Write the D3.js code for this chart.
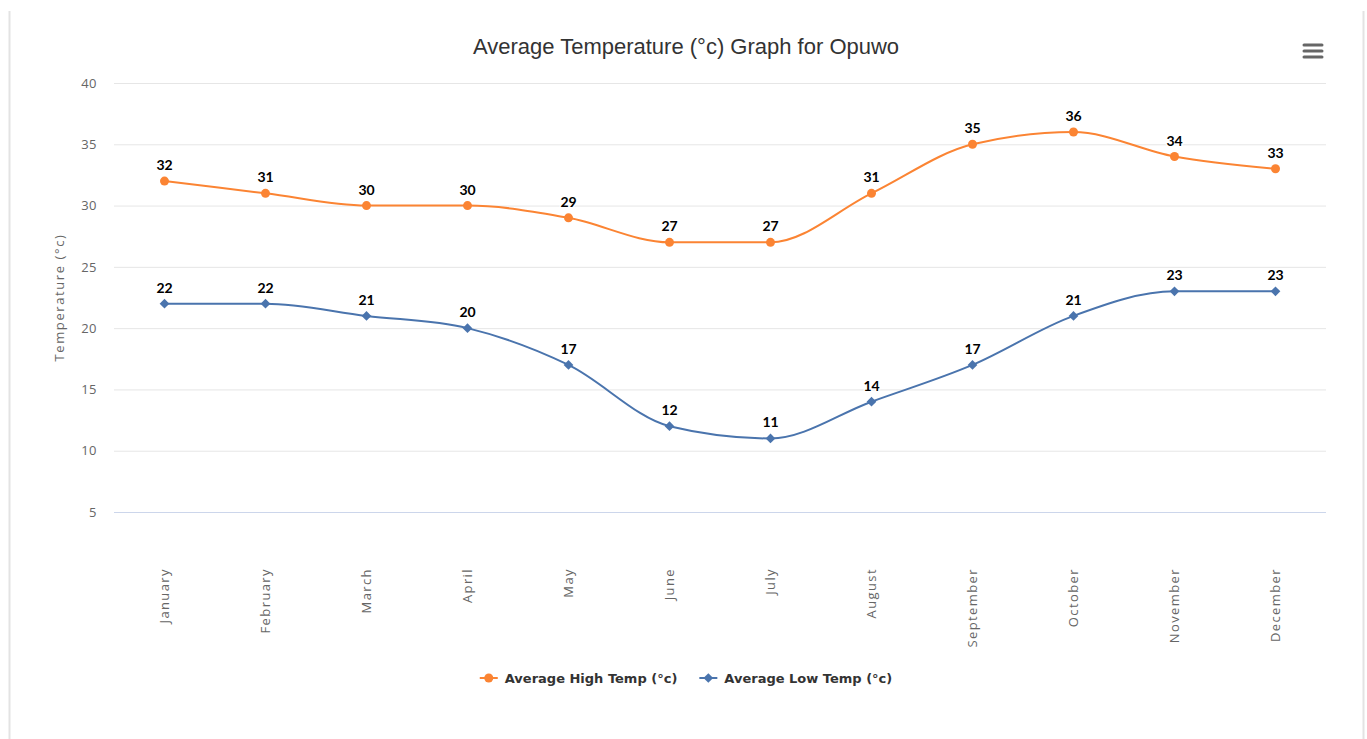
<!DOCTYPE html>
<html>
<head>
<meta charset="utf-8">
<script src="https://cdn.jsdelivr.net/npm/d3@7"></script>
<style>
  body { margin: 0; background: #fff; }
  svg { display: block; }
</style>
</head>
<body>
<div id="chart"></div>
<script>
// chart data
const months = ["January", "February", "March", "April", "May", "June",
  "July", "August", "September", "October", "November", "December"];
const highTemps = [32, 31, 30, 30, 29, 27, 27, 31, 35, 36, 34, 33];
const lowTemps = [22, 22, 21, 20, 17, 12, 11, 14, 17, 21, 23, 23];
const yTicks = [5, 10, 15, 20, 25, 30, 35, 40];
const seriesNames = ["Average High Temp (°c)", "Average Low Temp (°c)"];

const W = 1367, H = 739;
const margin = { top: 83, left: 114, right: 41, bottom: 227 };
const width = W - margin.left - margin.right,
  height = H - margin.top - margin.bottom;

const colors = ["#fb8433", "#4a74ad"];

const svg = d3.select("#chart").append("svg")
  .attr("width", W)
  .attr("height", H);

// light frame around the chart box
svg.append("line").attr("x1", 9.5).attr("x2", 9.5).attr("y1", 11).attr("y2", H)
  .attr("stroke", "#e3e3e3").attr("stroke-width", 2);
svg.append("line").attr("x1", 1363.5).attr("x2", 1363.5).attr("y1", 11).attr("y2", H)
  .attr("stroke", "#e3e3e3").attr("stroke-width", 2);

// title
svg.append("text")
  .attr("x", 686).attr("y", 54)
  .attr("text-anchor", "middle")
  .style("font-family", "'Liberation Sans', Arial, sans-serif")
  .style("font-size", "22px")
  .style("fill", "#333")
  .text("Average Temperature (°c) Graph for Opuwo");

// menu icon
[45, 51, 57].forEach(y => {
  svg.append("line")
    .attr("x1", 1304).attr("x2", 1322)
    .attr("y1", y).attr("y2", y)
    .attr("stroke", "#666").attr("stroke-width", 3)
    .attr("stroke-linecap", "round");
});

const g = svg.append("g")
  .attr("transform", "translate(" + margin.left + "," + margin.top + ")");

const x = d3.scaleBand().domain(months).range([0, width]);
const y = d3.scaleLinear().domain([5, 40]).range([height, 0]);
const cx = d => x(d) + x.bandwidth() / 2;

// grid lines
const yAxis = g.append("g")
  .call(d3.axisLeft(y).tickValues(yTicks).tickSize(-width).tickPadding(17));
yAxis.select(".domain").remove();
yAxis.selectAll(".tick line")
  .attr("stroke", d => d === 5 ? "#ccd6eb" : "#e6e6e6");
yAxis.selectAll(".tick text")
  .style("font-family", "'Open Sans', sans-serif")
  .style("font-size", "13px")
  .style("letter-spacing", "0.5px")
  .style("fill", "#666");

// x axis labels
const xAxis = g.append("g")
  .attr("transform", "translate(0," + height + ")")
  .call(d3.axisBottom(x).tickSize(0));
xAxis.select(".domain").remove();
xAxis.selectAll(".tick text")
  .attr("transform", "translate(0,56) rotate(-90)")
  .attr("x", 0).attr("y", 0)
  .attr("dy", "0.35em")
  .style("text-anchor", "end")
  .style("font-family", "'Open Sans', sans-serif")
  .style("font-size", "13px")
  .style("letter-spacing", "1.4px")
  .style("fill", "#666");

// y axis title
svg.append("text")
  .attr("transform", "translate(64," + (margin.top + height / 2) + ") rotate(-90)")
  .attr("text-anchor", "middle")
  .style("font-family", "'Open Sans', sans-serif")
  .style("font-size", "13px")
  .style("letter-spacing", "1.6px")
  .style("fill", "#666")
  .text("Temperature (°c)");

const line = d3.line()
  .x((d, i) => cx(months[i]))
  .y(d => y(d))
  .curve(d3.curveMonotoneX);

const diamond = d3.symbol().type(d3.symbolDiamond2).size(60);

[highTemps, lowTemps].forEach((vals, s) => {
  g.append("path")
    .datum(vals)
    .attr("d", line)
    .attr("fill", "none")
    .attr("stroke", colors[s])
    .attr("stroke-width", 2);

  const pts = g.selectAll(".pt" + s).data(vals).enter();
  if (s === 0) {
    pts.append("circle")
      .attr("cx", (d, i) => cx(months[i]))
      .attr("cy", d => y(d))
      .attr("r", 4.5)
      .attr("fill", colors[s]);
  } else {
    pts.append("path")
      .attr("d", diamond)
      .attr("transform", (d, i) => "translate(" + cx(months[i]) + "," + y(d) + ")")
      .attr("fill", colors[s]);
  }

  // data labels
  g.selectAll(".lbl" + s).data(vals).enter()
    .append("text")
    .attr("x", (d, i) => cx(months[i]))
    .attr("y", d => y(d) - 11)
    .attr("text-anchor", "middle")
    .style("font-family", "Lato, sans-serif")
    .style("font-weight", "bold")
    .style("font-size", "14px")
    .style("fill", "#000")
    .style("stroke", "#fff")
    .style("stroke-width", 3)
    .style("paint-order", "stroke")
    .text(d => d);
});

// legend
const legend = svg.append("g");
let lx = 0;
seriesNames.forEach((name, s) => {
  const item = legend.append("g").attr("transform", "translate(" + lx + ",0)");
  item.append("line")
    .attr("x1", 0).attr("x2", 18).attr("y1", 0).attr("y2", 0)
    .attr("stroke", colors[s]).attr("stroke-width", 2);
  if (s === 0) {
    item.append("circle").attr("cx", 9).attr("cy", 0).attr("r", 4.5).attr("fill", colors[s]);
  } else {
    item.append("path").attr("d", diamond).attr("transform", "translate(9,0)").attr("fill", colors[s]);
  }
  const t = item.append("text")
    .attr("x", 25).attr("y", 5)
    .style("font-family", "'DejaVu Sans', sans-serif")
    .style("font-weight", "bold")
    .style("font-size", "13px")
    .style("fill", "#333")
    .text(name);
  lx += 25 + t.node().getComputedTextLength() + 22;
});
const legendW = lx - 22;
legend.attr("transform", "translate(" + (686 - legendW / 2) + ",678)");
</script>
</body>
</html>
